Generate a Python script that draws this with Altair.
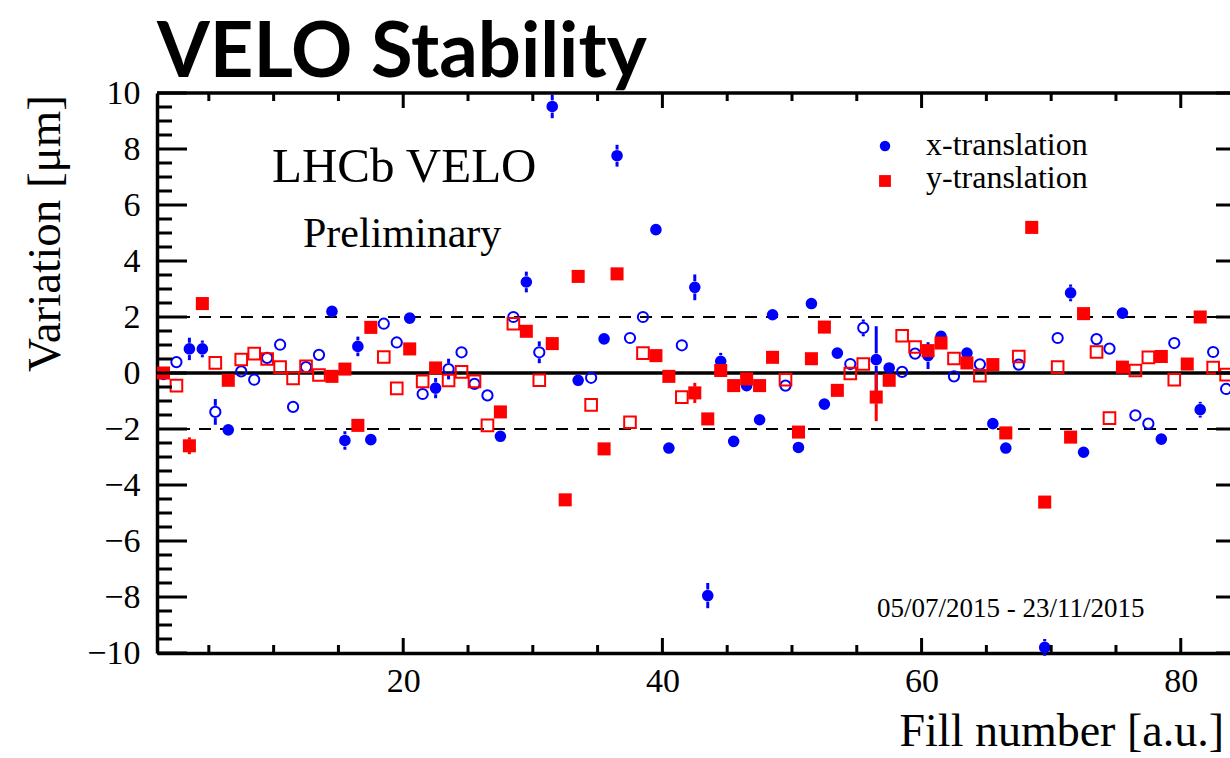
import altair as alt
import pandas as pd

# ---------------- data ----------------
fills = list(range(1, 84))

blue_y = [
    -0.05, 0.39, 0.86, 0.86, -1.39, -2.03, 0.06, -0.24, 0.54, 1.01,
    -1.21, 0.21, 0.65, 2.20, -2.41, 0.95, -2.38, 1.76, 1.09, 1.96,
    -0.75, -0.54, 0.14, 0.74, -0.39, -0.80, -2.26, 2.00, 3.25, 0.74,
    9.52, None, -0.26, -0.17, 1.22, 7.76, 1.25, 2.00, 5.12, -2.68,
    0.99, 3.06, -7.95, 0.42, -2.44, -0.45, -1.67, 2.08, -0.45, -2.66,
    2.48, -1.11, 0.71, 0.32, 1.61, 0.48, 0.18, 0.04, 0.69, 0.62,
    1.31, -0.12, 0.71, 0.31, -1.81, -2.68, 0.30, None, -9.80, 1.25,
    2.86, -2.83, 1.21, 0.87, 2.14, -1.51, -1.81, -2.36, 1.07, None,
    -1.31, 0.75, -0.57,
]

red_y = [
    0.00, -0.45, -2.60, 2.48, 0.36, -0.26, 0.48, 0.69, 0.50, 0.21,
    -0.19, 0.24, -0.07, -0.12, 0.14, -1.87, 1.63, 0.57, -0.55, 0.86,
    -0.30, 0.18, -0.27, 0.04, -0.30, -1.87, -1.39, 1.76, 1.49, -0.26,
    1.05, -4.53, 3.45, -1.14, -2.71, 3.54, -1.76, 0.71, 0.62, -0.12,
    -0.86, -0.71, -1.64, 0.09, -0.45, -0.21, -0.45, 0.56, -0.24, -2.11,
    0.51, 1.64, -0.62, -0.02, 0.32, -0.86, -0.26, 1.33, 0.93, 0.80,
    1.07, 0.52, 0.36, -0.10, 0.30, -2.14, 0.59, 5.20, -4.61, 0.21,
    -2.29, 2.12, 0.75, -1.61, 0.21, 0.09, 0.56, 0.59, -0.24, 0.32,
    2.00, 0.19, -0.06,
]

# 1 = filled marker, 0 = open marker
filled = [
    1, 0, 1, 1, 0, 1, 0, 0, 0, 0,
    0, 0, 0, 1, 1, 1, 1, 0, 0, 1,
    0, 1, 0, 0, 0, 0, 1, 0, 1, 0,
    1, 1, 1, 0, 1, 1, 0, 0, 1, 1,
    0, 1, 1, 1, 1, 1, 1, 1, 0, 1,
    1, 1, 1, 0, 0, 1, 1, 0, 0, 1,
    1, 0, 1, 0, 1, 1, 0, 1, 1, 0,
    1, 1, 0, 0, 1, 0, 0, 1, 0, 1,
    1, 0, 0,
]

blue_err = [
    0.2, 0.2, 0.4, 0.3, 0.46, 0.2, 0.2, 0.2, 0.2, 0.2,
    0.2, 0.2, 0.2, 0.2, 0.33, 0.35, 0.2, 0.2, 0.2, 0.2,
    0.2, 0.36, 0.37, 0.2, 0.2, 0.2, 0.2, 0.2, 0.37, 0.39,
    0.42, 0.2, 0.2, 0.2, 0.2, 0.39, 0.2, 0.2, 0.2, 0.2,
    0.2, 0.46, 0.45, 0.3, 0.2, 0.2, 0.2, 0.2, 0.2, 0.2,
    0.2, 0.2, 0.2, 0.2, 0.3, 1.19, 0.2, 0.2, 0.2, 0.48,
    0.2, 0.2, 0.2, 0.2, 0.2, 0.2, 0.2, 0.2, 0.3, 0.2,
    0.3, 0.2, 0.2, 0.2, 0.2, 0.2, 0.2, 0.2, 0.2, 0.2,
    0.28, 0.2, 0.2,
]

red_err = [
    0.15, 0.15, 0.3, 0.15, 0.15, 0.15, 0.15, 0.15, 0.15, 0.15,
    0.15, 0.15, 0.15, 0.15, 0.15, 0.15, 0.15, 0.15, 0.15, 0.15,
    0.15, 0.15, 0.15, 0.15, 0.15, 0.15, 0.15, 0.15, 0.15, 0.15,
    0.15, 0.15, 0.15, 0.15, 0.15, 0.15, 0.15, 0.15, 0.15, 0.15,
    0.15, 0.36, 0.15, 0.15, 0.15, 0.15, 0.15, 0.15, 0.15, 0.15,
    0.15, 0.15, 0.15, 0.15, 0.15, 0.86, 0.15, 0.15, 0.15, 0.15,
    0.15, 0.15, 0.15, 0.15, 0.15, 0.15, 0.15, 0.15, 0.15, 0.15,
    0.15, 0.15, 0.15, 0.15, 0.15, 0.15, 0.15, 0.15, 0.15, 0.15,
    0.15, 0.15, 0.15,
]

y_labels = [-10, -8, -6, -4, -2, 0, 2, 4, 6, 8, 10]
y_minor = [v / 2 for v in range(-20, 21) if v % 4 != 0]
x_labels = [20, 40, 60, 80]
x_minor = [5, 10, 15, 25, 30, 35, 45, 50, 55, 65, 70, 75]
band = [-2, 2]
zero = [0]

BLUE = "#0000ff"
RED = "#ff0000"
SERIF = "Liberation Serif"

W, H = 1073, 560
GAP = 0.22  # half marker size in data units: error bars are not drawn through the marker

rows = []
for i, f in enumerate(fills):
    for s, vals, errs in (("x", blue_y, blue_err), ("y", red_y, red_err)):
        v = vals[i]
        if v is None:
            continue
        rows.append({"xc": f + 0.5, "v": v, "lo": v - errs[i], "hi": v + errs[i],
                     "lo_in": v - GAP, "hi_in": v + GAP, "err": errs[i],
                     "s": s, "filled": filled[i]})
df = pd.DataFrame(rows)

xs = alt.Scale(domain=[1, 83.8], nice=False, zero=False)
ys = alt.Scale(domain=[-10, 10], nice=False, zero=False)

xax = alt.Axis(values=x_labels, format="d", labelFont=SERIF, labelFontSize=34,
               labelColor="black", ticks=False, tickSize=0, grid=False,
               domain=True, domainColor="black", domainWidth=3.5,
               labelPadding=11, labelFlush=False, labelOverlap=False)
yax = alt.Axis(values=y_labels, format="d", labelFont=SERIF, labelFontSize=34,
               labelColor="black", ticks=False, tickSize=0, grid=False,
               domain=True, domainColor="black", domainWidth=3.5,
               labelPadding=17, labelFlush=False, labelOverlap=False)

X = alt.X("xc:Q", scale=xs, axis=xax, title=None)
Y = alt.Y("v:Q", scale=ys, axis=yax, title=None)

one = pd.DataFrame({"k": [0]})

layers = []

# dashed +-2 lines and zero line
layers.append(alt.Chart(pd.DataFrame({"v": band})).mark_rule(
    color="black", strokeWidth=2, strokeDash=[12, 9]).encode(
    y=Y, x=alt.value(0), x2=alt.value(W)))
layers.append(alt.Chart(pd.DataFrame({"v": zero})).mark_rule(
    color="black", strokeWidth=3.5).encode(
    y=Y, x=alt.value(0), x2=alt.value(W)))


def sub(s, fl):
    return df[(df.s == s) & (df.filled == fl)]


def errbars(s, color):
    d = df[(df.s == s) & (df.err > GAP)]
    up = alt.Chart(d).mark_rule(color=color, strokeWidth=3).encode(
        x=X, y=alt.Y("hi_in:Q", scale=ys, axis=yax, title=None), y2="hi:Q")
    dn = alt.Chart(d).mark_rule(color=color, strokeWidth=3).encode(
        x=X, y=alt.Y("lo:Q", scale=ys, axis=yax, title=None), y2="lo_in:Q")
    return [up, dn]


# blue: x-translation
layers += errbars("x", BLUE)
layers.append(alt.Chart(sub("x", 0)).mark_point(
    shape="circle", filled=False, size=105, strokeWidth=2, color=BLUE, opacity=1).encode(x=X, y=Y))
layers.append(alt.Chart(sub("x", 1)).mark_point(
    shape="circle", filled=True, size=135, strokeWidth=0, color=BLUE, opacity=1).encode(x=X, y=Y))

# red: y-translation
layers += errbars("y", RED)
layers.append(alt.Chart(sub("y", 0)).mark_point(
    shape="square", filled=False, size=135, strokeWidth=2, color=RED, opacity=1).encode(x=X, y=Y))
layers.append(alt.Chart(sub("y", 1)).mark_point(
    shape="square", filled=True, size=170, strokeWidth=0, color=RED, opacity=1).encode(x=X, y=Y))

# inward ticks (ROOT style)
layers.append(alt.Chart(pd.DataFrame({"v": y_labels})).mark_rule(color="black", strokeWidth=3).encode(
    y=Y, x=alt.value(0), x2=alt.value(30)))
layers.append(alt.Chart(pd.DataFrame({"v": y_minor})).mark_rule(color="black", strokeWidth=3).encode(
    y=Y, x=alt.value(0), x2=alt.value(15)))
layers.append(alt.Chart(pd.DataFrame({"v": y_labels})).mark_rule(color="black", strokeWidth=3).encode(
    y=Y, x=alt.value(W - 14), x2=alt.value(W)))
layers.append(alt.Chart(pd.DataFrame({"xc": x_labels})).mark_rule(color="black", strokeWidth=3).encode(
    x=X, y=alt.value(H - 15), y2=alt.value(H)))
layers.append(alt.Chart(pd.DataFrame({"xc": x_minor})).mark_rule(color="black", strokeWidth=3).encode(
    x=X, y=alt.value(H - 8), y2=alt.value(H)))
layers.append(alt.Chart(pd.DataFrame({"xc": x_labels})).mark_rule(color="black", strokeWidth=3).encode(
    x=X, y=alt.value(0), y2=alt.value(15)))
layers.append(alt.Chart(pd.DataFrame({"xc": x_minor})).mark_rule(color="black", strokeWidth=3).encode(
    x=X, y=alt.value(0), y2=alt.value(8)))
# top frame line
layers.append(alt.Chart(one).mark_rule(color="black", strokeWidth=3.5).encode(
    y=alt.value(0), x=alt.value(0), x2=alt.value(W)))


def txt(text, x, y, size, font=SERIF, **kw):
    return alt.Chart(one).mark_text(text=text, font=font, fontSize=size, color="black",
                                    align=kw.pop("align", "left"), baseline="alphabetic", **kw).encode(
        x=alt.value(x), y=alt.value(y))


layers.append(txt("VELO Stability", 0, -16.5, 76, font="Lato", fontWeight="bold"))
layers.append(txt("LHCb VELO", 115, 89, 49))
layers.append(txt("Preliminary", 146, 154, 42))
layers.append(txt("x-translation", 769, 62, 32))
layers.append(txt("y-translation", 769, 95, 32))
layers.append(txt("05/07/2015 - 23/11/2015", 720, 524, 27))
layers.append(txt("Fill number [a.u.]", W - 6, 653, 46, align="right"))
layers.append(txt("Variation [\u03bcm]", -97, 2, 47, align="right", angle=270))

# legend symbols
layers.append(alt.Chart(one).mark_point(shape="circle", filled=True, size=110, strokeWidth=0,
                                        color=BLUE, opacity=1).encode(x=alt.value(728), y=alt.value(53)))
layers.append(alt.Chart(one).mark_point(shape="square", filled=True, size=140, strokeWidth=0,
                                        color=RED, opacity=1).encode(x=alt.value(728), y=alt.value(88)))

chart = alt.layer(*layers).properties(
    width=W, height=H,
    padding={"left": 157, "top": 93, "right": 0, "bottom": 105},
    autosize=alt.AutoSizeParams(type="none"),
    background="white",
).configure_view(strokeWidth=0)

chart.save("out.html", embed_options={"renderer": "svg", "actions": False})
